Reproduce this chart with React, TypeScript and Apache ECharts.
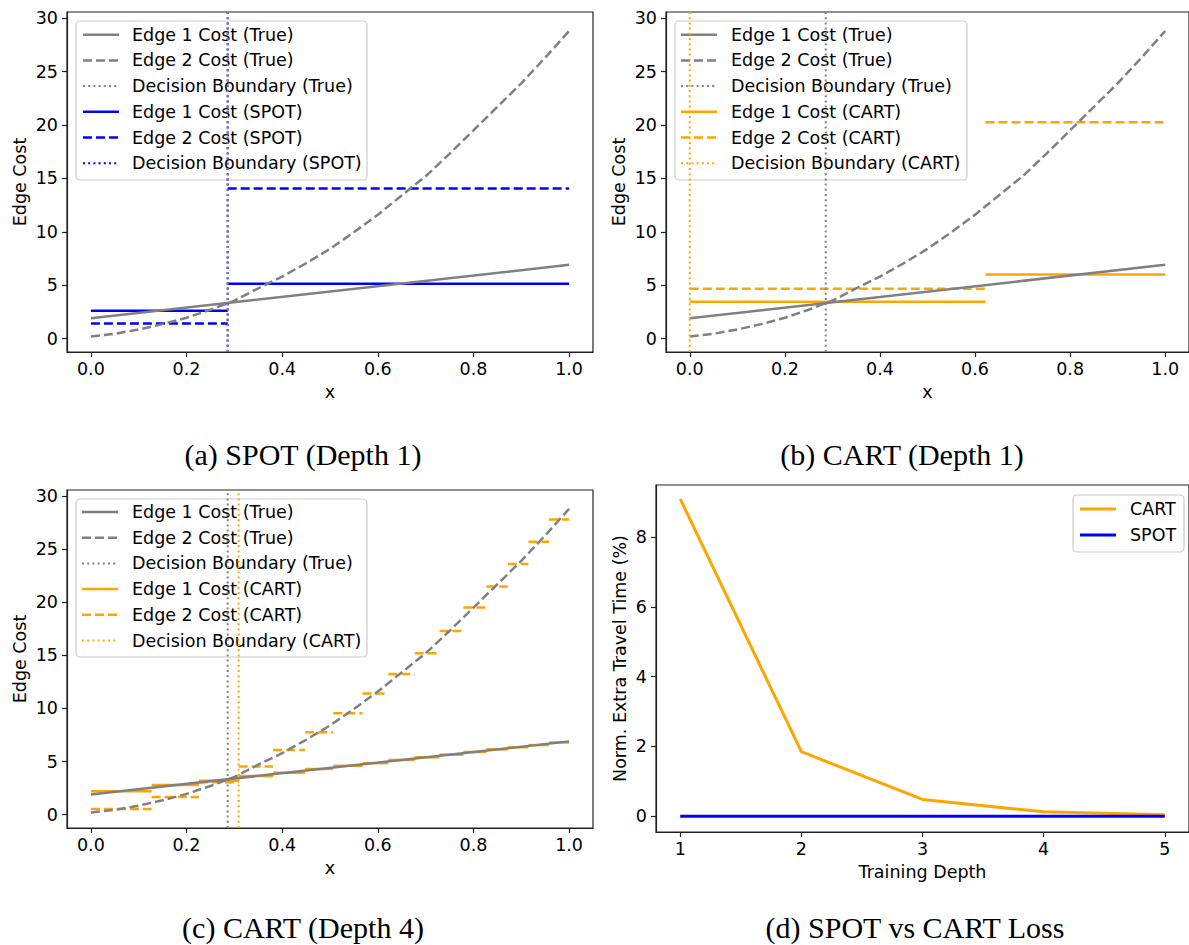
import React, { useEffect, useRef } from 'react';
import * as echarts from 'echarts';

// ---------- data ----------
const X_TICKS = [0, 0.2, 0.4, 0.6, 0.8, 1.0];
const COST_TICKS = [0, 5, 10, 15, 20, 25, 30];
const LOSS_TICKS = [0, 2, 4, 6, 8];
const DEPTH_TICKS = [1, 2, 3, 4, 5];

const EDGE1_TRUE_X = [0, 1];
const EDGE1_TRUE = [1.9, 6.9];
const EDGE2_TRUE_X = [0, 0.05, 0.1, 0.15, 0.2, 0.25, 0.3, 0.35, 0.4, 0.45, 0.5, 0.55, 0.6, 0.65, 0.7, 0.75, 0.8, 0.85, 0.9, 0.95, 1.0];
const EDGE2_TRUE = [0.2, 0.45, 0.85, 1.35, 1.95, 2.7, 3.55, 4.7, 5.8, 7.05, 8.4, 9.95, 11.6, 13.4, 15.2, 17.3, 19.5, 21.7, 23.9, 26.3, 28.8];
const TRUE_BOUNDARY = 0.286;

const SPOT_SPLITS = [0, 0.286, 1.0];
const SPOT_EDGE1 = [2.6, 5.12];
const SPOT_EDGE2 = [1.4, 14.06];
const SPOT_BOUNDARY = 0.286;

const CART1_SPLITS = [0, 0.622, 1.0];
const CART1_EDGE1 = [3.44, 6.0];
const CART1_EDGE2 = [4.66, 20.25];
const CART1_BOUNDARY = 0.0;

const CART4_SPLITS = [0, 0.127, 0.226, 0.309, 0.381, 0.448, 0.507, 0.568, 0.622, 0.677, 0.729, 0.779, 0.827, 0.872, 0.915, 0.958, 1.0];
const CART4_EDGE1 = [2.2, 2.8, 3.2, 3.65, 3.95, 4.3, 4.6, 4.85, 5.15, 5.4, 5.65, 5.9, 6.15, 6.35, 6.55, 6.8];
const CART4_EDGE2 = [0.53, 1.66, 3.05, 4.53, 6.09, 7.75, 9.56, 11.4, 13.25, 15.2, 17.3, 19.5, 21.5, 23.6, 25.7, 27.8];
const CART4_BOUNDARY = 0.309;

const DEPTHS = [1, 2, 3, 4, 5];
const LOSS_CART = [9.1, 1.85, 0.48, 0.125, 0.04];
const LOSS_SPOT = [0, 0, 0, 0, 0];

// ---------- styling ----------
const SANS = 'DejaVu Sans';
const SERIF = 'Liberation Serif';
const FS = 17.5;
const GRAY = '#808080';
const BLUE = '#0000ff';
const ORANGE = '#ffa500';
const LW = 2.5;
const DASH = [9, 4];
const DOT = [2, 3.2];
const X_MIN = -0.05, X_MAX = 1.05;
const Y_MIN = -1.26, Y_MAX = 30.58;

const pairs = (xs: number[], ys: number[]) => xs.map((x, i) => [x, ys[i]]);
const steps = (splits: number[], vals: number[]) => vals.map((v, i) => [splits[i], splits[i + 1], v]);

function lineSeries(gi: number, name: string, data: number[][], color: string, type: any, width = LW) {
  return {
    type: 'line', name, xAxisIndex: gi, yAxisIndex: gi, data,
    symbol: 'none', showSymbol: false, silent: true,
    lineStyle: { color, width, type },
  };
}

function stepSeries(gi: number, name: string, data: number[][], color: string, dash: number[] | null) {
  return {
    type: 'custom', name, xAxisIndex: gi, yAxisIndex: gi, data, silent: true,
    encode: { x: [0, 1], y: 2 },
    renderItem: (_p: any, api: any) => {
      const a = api.coord([api.value(0), api.value(2)]);
      const b = api.coord([api.value(1), api.value(2)]);
      return {
        type: 'line',
        shape: { x1: a[0], y1: a[1], x2: b[0], y2: b[1] },
        style: { stroke: color, lineWidth: LW, lineDash: dash || undefined, fill: null },
      };
    },
  };
}

function vline(gi: number, name: string, x: number, color: string) {
  return lineSeries(gi, name, [[x, Y_MIN], [x, Y_MAX]], color, DOT, 2);
}

const textStyle = { fontFamily: SANS, fontSize: FS, color: '#000' };

function xAxis(gi: number, min: number, max: number, ticks: number[], fmt: (v: number) => string, name: string) {
  return {
    type: 'value', gridIndex: gi, min, max,
    name, nameLocation: 'middle', nameGap: 31, nameTextStyle: textStyle,
    axisLine: { show: true, onZero: false, lineStyle: { color: '#222', width: 1.2 } },
    splitLine: { show: false },
    axisTick: { show: true, customValues: ticks, length: 5, lineStyle: { color: '#222', width: 1.2 } },
    axisLabel: { customValues: ticks, formatter: fmt, margin: 8, ...textStyle },
  };
}

function yAxis(gi: number, min: number, max: number, ticks: number[], name: string, gap: number) {
  return {
    type: 'value', gridIndex: gi, min, max,
    name, nameLocation: 'middle', nameGap: gap, nameTextStyle: textStyle,
    axisLine: { show: true, onZero: false, lineStyle: { color: '#222', width: 1.2 } },
    splitLine: { show: false },
    axisTick: { show: true, customValues: ticks, length: 5, lineStyle: { color: '#222', width: 1.2 } },
    axisLabel: { customValues: ticks, formatter: (v: number) => String(v), margin: 9, ...textStyle },
  };
}

type Entry = { label: string; color: string; dash: number[] | null; width?: number };

function legend(box: { x: number; y: number; w: number; h: number }, y0: number, step: number, hx: number, tx: number, entries: Entry[]) {
  const children: any[] = [
    {
      type: 'rect', shape: { x: box.x, y: box.y, width: box.w, height: box.h, r: 4 },
      style: { fill: 'rgba(255,255,255,0.8)', stroke: '#cccccc', lineWidth: 1.2 },
    },
  ];
  entries.forEach((e, i) => {
    const y = y0 + i * step;
    children.push({
      type: 'line', shape: { x1: hx, y1: y, x2: hx + 36, y2: y },
      style: { stroke: e.color, lineWidth: e.width || LW, lineDash: e.dash || undefined },
    });
    children.push({
      type: 'text',
      style: { text: e.label, x: tx, y, fontFamily: SANS, fontSize: FS, fill: '#000', verticalAlign: 'middle', textVerticalAlign: 'middle', align: 'left' },
    });
  });
  return { type: 'group', z: 100, children };
}

function caption(text: string, x: number, y: number) {
  return {
    type: 'text', z: 100,
    style: { text, x, y, fontFamily: SERIF, fontSize: 30, fill: '#000', align: 'center', textAlign: 'center', verticalAlign: 'middle', textVerticalAlign: 'middle' },
  };
}

const fmt1 = (v: number) => v.toFixed(1);

export default function App() {
  const ref = useRef<HTMLDivElement>(null);
  useEffect(() => {
    document.body.style.margin = '0';
    const chart = echarts.init(ref.current!, null, { renderer: 'svg' });

    const trueEntries = (tag: string, color: string): Entry[] => [
      { label: 'Edge 1 Cost (True)', color: GRAY, dash: null },
      { label: 'Edge 2 Cost (True)', color: GRAY, dash: DASH },
      { label: 'Decision Boundary (True)', color: GRAY, dash: DOT, width: 2 },
      { label: `Edge 1 Cost (${tag})`, color, dash: null },
      { label: `Edge 2 Cost (${tag})`, color, dash: DASH },
      { label: `Decision Boundary (${tag})`, color, dash: DOT, width: 2 },
    ];

    const trueSeries = (gi: number) => [
      lineSeries(gi, 'Edge 1 Cost (True)', pairs(EDGE1_TRUE_X, EDGE1_TRUE), GRAY, 'solid'),
      lineSeries(gi, 'Edge 2 Cost (True)', pairs(EDGE2_TRUE_X, EDGE2_TRUE), GRAY, DASH),
    ];

    const option: any = {
      animation: false,
      grid: [
        { left: 67, top: 12, width: 526, height: 340, show: true, borderColor: '#222', borderWidth: 1.2 },
        { left: 666, top: 12, width: 528, height: 340, show: true, borderColor: '#222', borderWidth: 1.2 },
        { left: 67, top: 490, width: 526, height: 338, show: true, borderColor: '#222', borderWidth: 1.2 },
        { left: 656, top: 485, width: 538, height: 347, show: true, borderColor: '#222', borderWidth: 1.2 },
      ],
      xAxis: [
        xAxis(0, X_MIN, X_MAX, X_TICKS, fmt1, 'x'),
        xAxis(1, X_MIN, X_MAX, X_TICKS, fmt1, 'x'),
        xAxis(2, X_MIN, X_MAX, X_TICKS, fmt1, 'x'),
        xAxis(3, 0.8, 5.2, DEPTH_TICKS, (v: number) => String(v), 'Training Depth'),
      ],
      yAxis: [
        yAxis(0, Y_MIN, Y_MAX, COST_TICKS, 'Edge Cost', 38),
        yAxis(1, Y_MIN, Y_MAX, COST_TICKS, 'Edge Cost', 38),
        yAxis(2, Y_MIN, Y_MAX, COST_TICKS, 'Edge Cost', 38),
        yAxis(3, -0.455, 9.5, LOSS_TICKS, 'Norm. Extra Travel Time (%)', 27),
      ],
      series: [
        // (a)
        ...trueSeries(0),
        vline(0, 'Decision Boundary (SPOT)', SPOT_BOUNDARY, BLUE),
        vline(0, 'Decision Boundary (True)', TRUE_BOUNDARY, GRAY),
        stepSeries(0, 'Edge 1 Cost (SPOT)', steps(SPOT_SPLITS, SPOT_EDGE1), BLUE, null),
        stepSeries(0, 'Edge 2 Cost (SPOT)', steps(SPOT_SPLITS, SPOT_EDGE2), BLUE, DASH),
        // (b)
        ...trueSeries(1),
        vline(1, 'Decision Boundary (True)', TRUE_BOUNDARY, GRAY),
        stepSeries(1, 'Edge 1 Cost (CART)', steps(CART1_SPLITS, CART1_EDGE1), ORANGE, null),
        stepSeries(1, 'Edge 2 Cost (CART)', steps(CART1_SPLITS, CART1_EDGE2), ORANGE, DASH),
        vline(1, 'Decision Boundary (CART)', CART1_BOUNDARY, ORANGE),
        // (c)
        ...trueSeries(2),
        vline(2, 'Decision Boundary (True)', TRUE_BOUNDARY, GRAY),
        stepSeries(2, 'Edge 1 Cost (CART)', steps(CART4_SPLITS, CART4_EDGE1), ORANGE, null),
        stepSeries(2, 'Edge 2 Cost (CART)', steps(CART4_SPLITS, CART4_EDGE2), ORANGE, DASH),
        vline(2, 'Decision Boundary (CART)', CART4_BOUNDARY, ORANGE),
        // (d)
        lineSeries(3, 'CART', pairs(DEPTHS, LOSS_CART), ORANGE, 'solid', 3),
        lineSeries(3, 'SPOT', pairs(DEPTHS, LOSS_SPOT), BLUE, 'solid', 3),
      ],
      graphic: [
        legend({ x: 76, y: 21, w: 291, h: 159 }, 34.7, 25.7, 83, 132, trueEntries('SPOT', BLUE)),
        legend({ x: 675, y: 21, w: 292, h: 159 }, 34.7, 25.7, 681, 731, trueEntries('CART', ORANGE)),
        legend({ x: 76, y: 499, w: 291, h: 158 }, 512, 25.7, 82, 132, trueEntries('CART', ORANGE)),
        legend({ x: 1073, y: 495, w: 111, h: 57 }, 509, 26, 1080, 1130, [
          { label: 'CART', color: ORANGE, dash: null, width: 3 },
          { label: 'SPOT', color: BLUE, dash: null, width: 3 },
        ]),
        caption('(a) SPOT (Depth 1)', 303, 454),
        caption('(b) CART (Depth 1)', 902, 454),
        caption('(c) CART (Depth 4)', 303, 927),
        caption('(d) SPOT vs CART Loss', 915, 927),
      ],
    };
    chart.setOption(option);
    return () => chart.dispose();
  }, []);
  return <div ref={ref} style={{ width: 1189, height: 945 }} />;
}
